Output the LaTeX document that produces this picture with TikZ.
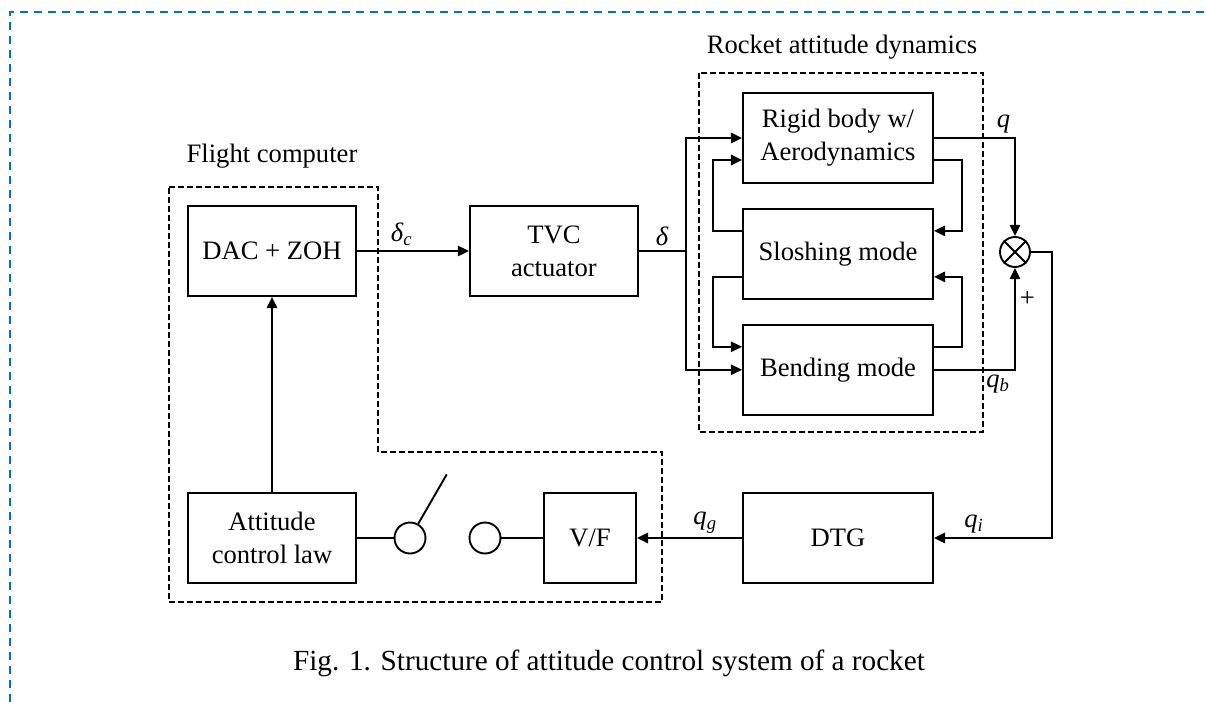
\documentclass[tikz,border=0pt]{standalone}
\usepackage{fontspec}
\setmainfont{Liberation Serif}
\usetikzlibrary{arrows.meta, positioning, calc}
\definecolor{frameblue}{RGB}{0,112,192}
\newcommand{\sigsub}[2]{\textit{#1}\textsubscript{\textit{#2}}}
\tikzset{
    >={Triangle[length=5.6pt, width=5.2pt]},
    % Blocks
    blk/.style={rectangle, draw, line width=0.95pt, minimum width=84pt, minimum height=45pt,
                align=center, inner sep=2pt, font=\fontsize{13.3}{16.5}\selectfont},
    wideblk/.style={blk, minimum width=95pt},
    smallblk/.style={blk, minimum width=46pt},
    sumnode/.style={circle, draw, line width=0.95pt, minimum size=15pt, inner sep=0pt},
    swnode/.style={circle, draw, line width=0.95pt, minimum size=15.5pt, inner sep=0pt},
    grp/.style={line width=0.8pt, dash pattern=on 2.8pt off 1.7pt},
    frame/.style={draw=frameblue, line width=1pt, dash pattern=on 4pt off 3pt},
    % Lines & labels
    flow/.style={->, line width=0.95pt},
    wire/.style={line width=0.95pt},
    lbl/.style={font=\fontsize{13.3}{16}\selectfont, inner sep=2pt}
}

\begin{document}
\begin{tikzpicture}[x=0.5pt, y=-0.5pt]
\useasboundingbox (0,0) rectangle (1206,702);

% outer frame
\draw[frame] (10,702) -- (10,12) -- (1206,12);

% flight computer
\node[blk] (dac) at (272,251) {DAC + ZOH};
\node[blk] (law) at (272,538) {Attitude\\control law};
\node[swnode] (swa) at (410,538) {};
\node[swnode] (swb) at (485,538) {};
\node[smallblk] (vf) at (590,538) {V/F};

% actuator and rocket
\node[blk, right=56pt of dac] (tvc) {TVC\\actuator};
\node[wideblk] (rigid) at (838,138) {Rigid body w/\\Aerodynamics};
\node[wideblk, below=12pt of rigid] (slosh) {Sloshing mode};
\node[wideblk, below=12pt of slosh] (bend) {Bending mode};
\node[sumnode] (sum) at (1015,252) {};
\node[wideblk] (dtg) at (838,538) {DTG};

% groups
\draw[grp] (169,187) -- (378,187) -- (378,452) -- (662,452) -- (662,602) -- (169,602) -- cycle;
\node[lbl, anchor=base] (fclabel) at (272,162) {Flight computer};
\draw[grp] (699,73) rectangle (983,432);
\node[lbl, anchor=base] (rklabel) at (842,53) {Rocket attitude dynamics};

% signals
\draw[flow] (law) -- (dac);
\draw[flow] (dac) -- node[lbl, above, pos=0.4] {\sigsub{δ}{c}} (tvc);
\draw[wire] (tvc.east) -- node[lbl, above] {\textit{δ}} ++(23.5pt,0) coordinate (bus);
\draw[flow] (bus) |- (rigid.west);
\draw[flow] (bus) |- (bend.west);

% coupling between modes
\draw[flow] ([yshift=11.5pt]slosh.west) -- ++(-14.5pt,0) |- ([yshift=-11pt]rigid.west);
\draw[flow] ([yshift=-11.5pt]slosh.west) -- ++(-14.5pt,0) |- ([yshift=11.5pt]bend.west);
\draw[flow] ([yshift=-11pt]rigid.east) -- ++(14pt,0) |- ([yshift=11.5pt]slosh.east);
\draw[flow] ([yshift=11.5pt]bend.east) -- ++(14pt,0) |- ([yshift=-11.5pt]slosh.east);

% sensor path
\draw[flow] (rigid.east) -| node[lbl, pos=0.5, above left] {\textit{q}} (sum.north);
\draw[flow] (bend.east) -| node[lbl, pos=0.5, below left] {\sigsub{q}{b}}
    node[lbl, pos=0.85, right] {+} (sum.south);
\draw[wire] (sum.45) -- (sum.225) (sum.135) -- (sum.315);
\draw[flow] (sum.east) -- ++(10.5pt,0) |- node[lbl, pos=0.83, above] {\sigsub{q}{i}} (dtg.east);
\draw[flow] (dtg) -- node[lbl, above, pos=0.35] {\sigsub{q}{g}} (vf);

% sampling switch
\draw[wire] (vf) -- (swb);
\draw[wire] (law) -- (swa);
\draw[wire] (swa.60) -- ++(60:28.5pt) coordinate (lever);

\node[lbl, anchor=base, font=\fontsize{14.6}{17}\selectfont] (caption) at (609,670)
    {Fig. 1. Structure of attitude control system of a rocket};
\end{tikzpicture}
\end{document}
